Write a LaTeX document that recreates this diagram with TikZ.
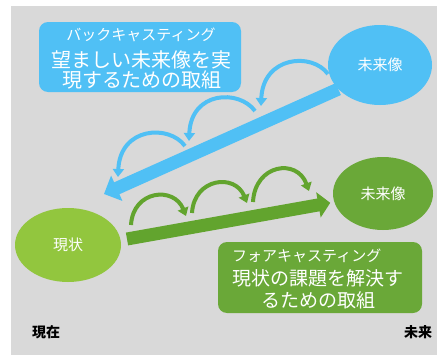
\documentclass[tikz,border=0pt]{standalone}
\usepackage{fontspec}
\newfontfamily\jp{Noto Sans CJK JP}
\usetikzlibrary{shapes.geometric,arrows.meta}
\definecolor{bg}{RGB}{217,217,217}
\definecolor{sky}{RGB}{80,192,245}
\definecolor{lime}{RGB}{146,198,62}
\definecolor{leaf}{RGB}{106,168,56}
\definecolor{leafd}{RGB}{98,164,46}
\begin{document}
\begin{tikzpicture}[x=1pt,y=-1pt,
  blob/.style={ellipse,inner sep=0pt,text=white,font=\jp\fontsize{15}{15}\selectfont},
  panel/.style={rectangle,rounded corners=9pt,inner sep=0pt,minimum width=202pt,minimum height=70pt},
  txs/.style={text=white,inner sep=0pt,font=\jp\fontsize{15}{15}\selectfont},
  txl/.style={text=white,inner sep=0pt,font=\jp\fontsize{20}{20}\selectfont},
  txm/.style={text=white,inner sep=0pt,font=\jp\fontsize{19}{19}\selectfont},
  axis label/.style={text=black,inner sep=0pt,font=\jp\bfseries\fontsize{14}{14}\selectfont},
  big/.style={line width=13pt},
  hop/.style={line width=4pt,-{Triangle[length=8pt,width=11pt]}},
]
\useasboundingbox (0,0) rectangle (437,356);
\fill[bg] (11,6) rectangle (437,355);

% boxes
\node[panel,fill=sky] (bbox) at (140,57) {};
\node[txs] (bt1) at (141,35) {バックキャスティング};
\node[txl] (bt2) at (141.5,60) {望ましい未来像を実};
\node[txl] (bt3) at (142,80) {現するための取組};

\node[panel,fill=leaf,minimum width=204pt,minimum height=71pt] (gbox) at (320,277.5) {};
\node[txs,anchor=west] (gt1) at (232,256) {フォアキャスティング};
\node[txm] (gt2) at (318,278) {現状の課題を解決す};
\node[txm] (gt3) at (318.5,300) {るための取組};

% ellipses
\node[blob,fill=sky,minimum width=104pt,minimum height=80pt] (fb) at (380,65) {未来像};
\node[blob,fill=lime,minimum width=106pt,minimum height=74pt] (now) at (68,245) {現状};
\node[blob,fill=leaf,minimum width=100pt,minimum height=73pt] (ff) at (383,193.5) {未来像};

% big arrows
\coordinate (btip) at (104,194);
\draw[big,sky,-{Triangle[length=14pt,width=27pt]}] (fb.210) -- (btip);
\coordinate (gtail) at (127,239);
\draw[big,leafd,shorten >=4pt,-{Triangle[length=12pt,width=25pt]}] (gtail) -- (ff.190);

% backcasting hops
\coordinate (b1s) at (328,74);  \coordinate (b1e) at (261,106);
\coordinate (b2s) at (255,111); \coordinate (b2e) at (189,141);
\coordinate (b3s) at (185,146); \coordinate (b3e) at (118,177);
\draw[hop,sky] (b1s) .. controls +(-16,-22) and +(2,-50) .. (b1e);
\draw[hop,sky] (b2s) .. controls +(-16,-22) and +(2,-50) .. (b2e);
\draw[hop,sky] (b3s) .. controls +(-16,-22) and +(2,-50) .. (b3e);

% forecasting hops
\coordinate (g1s) at (131,225); \coordinate (g1e) at (186,216);
\coordinate (g2s) at (192,213); \coordinate (g2e) at (247,203);
\coordinate (g3s) at (253,202); \coordinate (g3e) at (309,191);
\draw[hop,leafd] (g1s) .. controls +(2,-35) and +(-12,-30) .. (g1e);
\draw[hop,leafd] (g2s) .. controls +(2,-35) and +(-12,-30) .. (g2e);
\draw[hop,leafd] (g3s) .. controls +(2,-38) and +(-12,-33) .. (g3e);

% axis labels
\node[axis label] (t0) at (46,332) {現在};
\node[axis label] (t1) at (418,332) {未来};
\end{tikzpicture}
\end{document}
